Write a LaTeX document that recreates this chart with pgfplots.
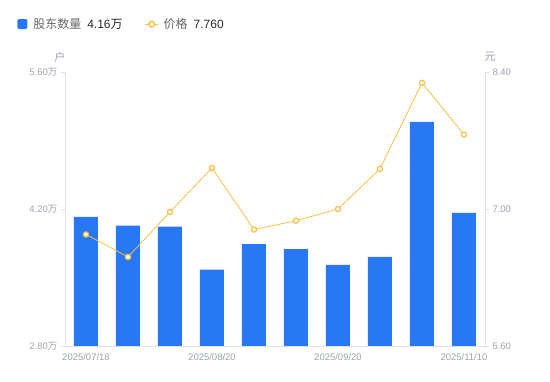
\documentclass[border=0pt]{standalone}
\usepackage{pgfplots}
\pgfplotsset{compat=1.18}
\usepackage{fontspec}
\setmainfont{Liberation Sans}
\newfontfamily\cjk{Noto Sans CJK SC}
\definecolor{barblue}{RGB}{40,120,245}
\definecolor{lineorange}{RGB}{249,190,70}
\definecolor{ticklab}{RGB}{158,162,176}
\definecolor{axisgray}{RGB}{224,226,231}
\definecolor{legtext}{RGB}{102,102,102}
\definecolor{legval}{RGB}{40,40,40}
\begin{document}
\begin{tikzpicture}[x=1pt,y=1pt]
\useasboundingbox (0,0) rectangle (550,381);
\pgfplotsset{base/.style={
  scale only axis, width=420pt, height=274pt,
  at={(65pt,35pt)}, anchor=south west,
  xmin=-0.5, xmax=9.5,
  axis line style={draw=axisgray, line width=0.8pt},
  tick align=outside, major tick length=4pt,
  tick style={draw=axisgray, line width=0.8pt},
  ticklabel style={font=\fontsize{9.5}{11}\selectfont, text=ticklab},
  clip=false,
}}
\begin{axis}[base,
  ymin=2.8, ymax=5.6,
  axis y line*=left, axis x line*=bottom,
  ytick={2.8,4.2,5.6},
  yticklabels={2.80{\cjk 万},4.20{\cjk 万},5.60{\cjk 万}},
  xtick={0,3,6,9},
  xticklabels={2025/07/18,2025/08/20,2025/09/20,2025/11/10},
  x tick style={draw=none},
  ybar, bar width=24pt,
  legend style={at={(-0.114,1.175)}, anchor=west, draw=none, fill=none,
    legend columns=2, font=\fontsize{12}{14}\selectfont,
    /tikz/every even column/.append style={column sep=20pt},
    inner sep=0pt},
  legend cell align=left,
]
\addplot[fill=barblue, draw=none,
  legend image code/.code={\fill[barblue, rounded corners=1.5pt] (0pt,-5pt) rectangle (10pt,5pt);}]
  coordinates {(0,4.12) (1,4.03) (2,4.02) (3,3.58) (4,3.84) (5,3.79) (6,3.63) (7,3.71) (8,5.09) (9,4.16)};
\addlegendentry{\hspace{4pt}{\color{legtext}\cjk 股东数量}\hspace{6pt}{\color{legval}4.16\cjk 万}}
\addlegendimage{legend image code/.code={\draw[lineorange, line width=1pt](0pt,0pt)--(13pt,0pt); \draw[lineorange, fill=white, line width=1.4pt](6.5pt,0pt) circle(2.8pt);}}
\addlegendentry{\hspace{3pt}{\color{legtext}\cjk 价格}\hspace{6pt}{\color{legval}7.760}}
\node[font=\fontsize{11}{12}\selectfont\cjk, text=ticklab] at (rel axis cs:-0.012,1.055) {户};
\end{axis}
\begin{axis}[base,
  ymin=5.6, ymax=8.4,
  axis y line*=right, axis x line=none,
  ytick={5.6,7.0,8.4},
  yticklabels={5.60,7.00,8.40},
]
\addplot[lineorange, line width=0.8pt, mark=*, mark size=2.6pt,
  mark options={fill=white, draw=lineorange, line width=1.2pt}]
  coordinates {(0,6.74) (1,6.51) (2,6.97) (3,7.42) (4,6.79) (5,6.88) (6,7.00) (7,7.41) (8,8.29) (9,7.76)};
\node[font=\fontsize{11}{12}\selectfont\cjk, text=ticklab] at (rel axis cs:1.012,1.055) {元};
\end{axis}
\end{tikzpicture}
\end{document}
